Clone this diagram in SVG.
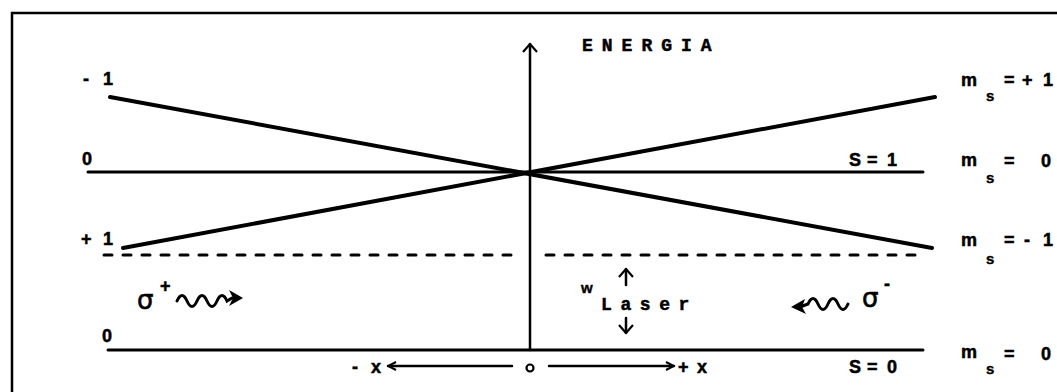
<svg xmlns="http://www.w3.org/2000/svg" width="1057" height="392" viewBox="0 0 1057 392">
<style>
.lbl{font-family:"Liberation Sans",Arial,sans-serif;font-weight:bold;font-size:18px;fill:#000;stroke:#000;stroke-width:0.5}
.mono{font-family:"Liberation Mono","DejaVu Sans Mono",monospace;font-weight:bold;font-size:18px;fill:#000;stroke:#000;stroke-width:0.5}
.sm{font-family:"Liberation Sans",Arial,sans-serif;font-weight:bold;font-size:15px;fill:#000;stroke:#000;stroke-width:0.4}
.sig{font-family:"DejaVu Sans","Liberation Sans",sans-serif;font-size:26px;fill:#000;stroke:#000;stroke-width:0.6}
.ln{stroke:#000;fill:none;stroke-linecap:round}
</style>
<defs>
<marker id="open" viewBox="0 0 10 10" refX="9" refY="5" markerWidth="10" markerHeight="10" markerUnits="userSpaceOnUse" orient="auto">
<path d="M1,1 L9,5 L1,9" fill="none" stroke="#000" stroke-width="2"/>
</marker>
<marker id="openBig" viewBox="0 0 10 16" refX="9" refY="8" markerWidth="10" markerHeight="16" markerUnits="userSpaceOnUse" orient="auto">
<path d="M1,1 L9,8 L1,15" fill="none" stroke="#000" stroke-width="2.2"/>
</marker>
</defs>
<rect width="1057" height="392" fill="#fff"/>
<path d="M12,392 V13 H1057" class="ln" stroke-width="2.5" stroke-linecap="butt"/>
<g id="connectors">
<line x1="530" y1="350" x2="530" y2="44" class="ln" stroke-width="2.5" marker-end="url(#openBig)"/>
<line x1="110" y1="97" x2="932" y2="248" class="ln" stroke-width="4"/>
<line x1="123" y1="248" x2="935" y2="97" class="ln" stroke-width="4"/>
<line x1="88" y1="172" x2="923" y2="172" class="ln" stroke-width="3"/>
<line x1="108" y1="350" x2="923" y2="350" class="ln" stroke-width="3"/>
<line x1="104" y1="255" x2="516" y2="255" class="ln" stroke-width="3" stroke-dasharray="8 11" stroke-linecap="butt"/>
<line x1="546" y1="255" x2="920" y2="255" class="ln" stroke-width="3" stroke-dasharray="8 11" stroke-linecap="butt"/>
<line x1="512" y1="366" x2="388" y2="366" class="ln" stroke-width="2.5" marker-end="url(#open)"/>
<line x1="549" y1="366" x2="674" y2="366" class="ln" stroke-width="2.5" marker-end="url(#open)"/>
<circle cx="530" cy="368" r="3.5" fill="none" stroke="#000" stroke-width="2.2"/>
<line x1="626" y1="285" x2="626" y2="269" class="ln" stroke-width="2.5" marker-end="url(#openBig)"/>
<line x1="626" y1="318" x2="626" y2="333" class="ln" stroke-width="2.5" marker-end="url(#openBig)"/>
<path d="M177,301 q5,-11 10,0 t10,0 t10,0 t10,0 t10,0 l5,-3" class="ln" stroke-width="3"/>
<polygon points="243,298 229,290 233,298 229,306" fill="#000"/>
<path d="M848,304 q-5,11 -10,0 t-10,0 t-10,0 t-10,0 l-8,3" class="ln" stroke-width="3"/>
<polygon points="791,307 805,299 802,307 806,314" fill="#000"/>
</g>
<g id="axis-label"><text class="mono" x="582" y="51" letter-spacing="9">ENERGIA</text></g>
<g id="left-labels">
<text class="lbl" x="83 103" y="85">-1</text>
<text class="lbl" x="82" y="165">0</text>
<text class="lbl" x="81 103" y="245">+1</text>
<text class="lbl" x="102" y="342">0</text>
</g>
<g id="sigma-plus"><text class="sig" x="137" y="309">σ</text><text class="lbl" x="160" y="292">+</text></g>
<g id="sigma-minus"><text class="sig" x="862" y="307">σ</text><text class="lbl" x="884" y="290">-</text></g>
<g id="laser">
<text class="sm" x="581" y="293">w</text>
<text class="mono" x="601" y="310" letter-spacing="8.6">Laser</text>
</g>
<g id="x-axis-labels">
<text class="lbl" x="352 371" y="373">-x</text>
<text class="lbl" x="678 697" y="373">+x</text>
</g>
<g id="s-labels">
<text class="lbl" x="849 867 887" y="166">S=1</text>
<text class="lbl" x="849 867 887" y="373">S=0</text>
</g>
<g id="ms-labels">
<text class="lbl" x="961" y="86">m</text><text class="sm" x="986" y="101">s</text><text class="lbl" x="1004 1022 1043" y="86">=+1</text>
<text class="lbl" x="961" y="166">m</text><text class="sm" x="986" y="183">s</text><text class="lbl" x="1004 1041" y="167">=0</text>
<text class="lbl" x="961" y="246">m</text><text class="sm" x="986" y="264">s</text><text class="lbl" x="1004 1024 1043" y="246">=-1</text>
<text class="lbl" x="961" y="358">m</text><text class="sm" x="986" y="374">s</text><text class="lbl" x="1004 1041" y="360">=0</text>
</g>
</svg>
